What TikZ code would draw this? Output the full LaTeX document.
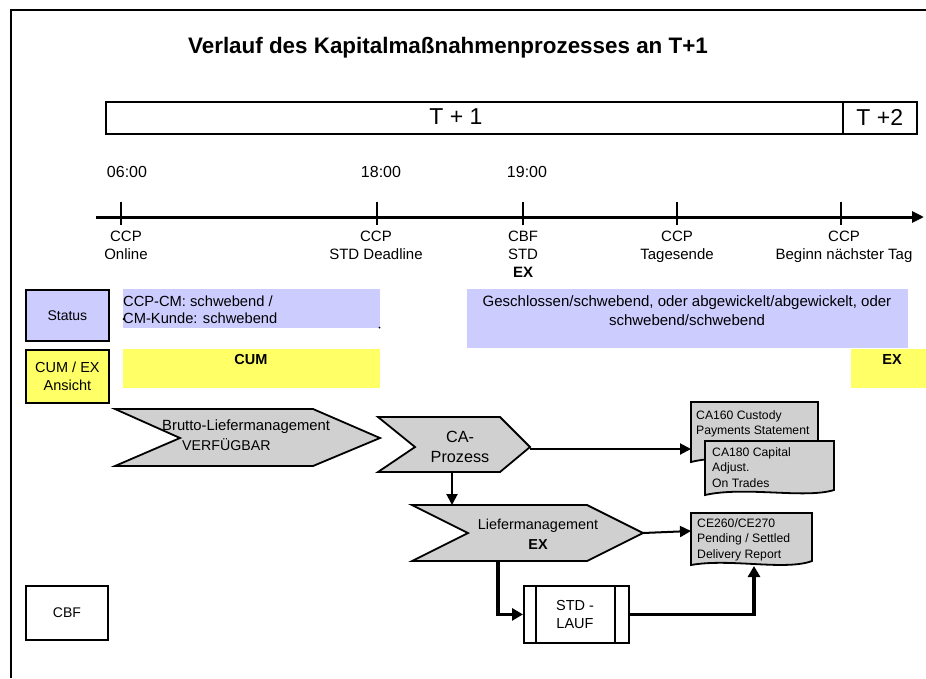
\documentclass[tikz,border=0pt]{standalone}
\usepackage{fontspec}
\setmainfont{Liberation Sans}
\usetikzlibrary{arrows.meta}
\definecolor{lav}{HTML}{CCCCFF}
\definecolor{yel}{HTML}{FFFF66}
\definecolor{chev}{HTML}{D0D0D0}
\newcommand\fsz[2]{\fontsize{#1}{#2}\selectfont}
\begin{document}
\begin{tikzpicture}[x=1pt,y=-1pt,
  txt/.style={inner sep=0pt, font=\fsz{14}{18}},
  lbl/.style={inner sep=0pt, font=\fsz{15}{18}, align=center, anchor=north},
  boxst/.style={draw, line width=1.8pt, inner sep=0pt, anchor=north west},
  bar/.style={inner sep=0pt, anchor=north west},
  chevst/.style={draw, fill=chev, line width=1.8pt, line join=miter},
  docst/.style={draw, fill=chev, line width=1.8pt},
  doctxt/.style={inner sep=0pt, anchor=north west, align=left, font=\fsz{12.2}{15.7}},
  arr/.style={line width=2pt, -{Triangle[length=11pt,width=11pt]}},
  tharr/.style={line width=3.2pt, -{Triangle[length=11pt,width=12pt]}}]
\useasboundingbox (0,0) rectangle (926,678);
\fill[white] (0,0) rectangle (926,678);
% frame
\draw[line width=2.2pt] (11,678) -- (11,10) -- (926,10);
% title
\node[inner sep=0pt, font=\bfseries\fsz{22.4}{25}] (title) at (448,48) {Verlauf des Kapitalmaßnahmenprozesses an T+1};
% day boxes
\node[boxst, line width=1.6pt, minimum width=737pt, minimum height=32pt] (t1) at (105,101) {};
\node[inner sep=0pt, font=\fsz{23}{26}] (t1t) at (456,117) {T + 1};
\node[boxst, line width=1.6pt, minimum width=74pt, minimum height=32pt, font=\fsz{23}{26}] (t2) at (842,101) {T +2};
% times
\node[txt, font=\fsz{16}{18}] (h06) at (127,172) {06:00};
\node[txt, font=\fsz{16}{18}] (h18) at (381,172) {18:00};
\node[txt, font=\fsz{16}{18}] (h19) at (527,172) {19:00};
% timeline
\coordinate (tlS) at (96,217);
\coordinate (tlE) at (924,217);
\draw[line width=3pt, -{Triangle[length=12pt,width=11pt]}] (tlS) -- (tlE);
\foreach \x in {121,377,523,677,841}{\draw[line width=1.6pt] (\x,202) -- (\x,225);}
\node[lbl] (l1) at (126,231) {CCP\\Online};
\node[lbl] (l2) at (376,231) {CCP\\STD Deadline};
\node[lbl] (l3) at (523,231) {CBF\\STD\\\textbf{EX}};
\node[lbl] (l4) at (677,231) {CCP\\Tagesende};
\node[lbl] (l5) at (844,231) {CCP\\Beginn nächster Tag};
% left labels
\node[boxst, fill=lav, minimum width=83pt, minimum height=51pt, font=\fsz{14}{18}] (status) at (25,289) {Status};
\node[boxst, fill=yel, minimum width=83pt, minimum height=53pt, font=\fsz{14.5}{18}, align=center] (cumex) at (25,349) {CUM / EX\\Ansicht};
\node[boxst, minimum width=82pt, minimum height=54pt, font=\fsz{14}{18}] (cbf) at (25,585) {CBF};
% status bars
\node[bar, fill=lav, minimum width=257pt, minimum height=39pt] (st1) at (123,289) {};
\node[txt, anchor=north west, align=left, font=\fsz{14.7}{17}] (st1t) at (123,296) {CCP-CM: schwebend /\\CM-Kunde: schwebend};
\fill (123.5,319) circle (1pt);
\fill (379.5,327.5) circle (1pt);
\node[bar, fill=lav, minimum width=441pt, minimum height=59pt] (st2) at (467,289) {};
\node[txt, anchor=north, align=center, font=\fsz{15}{19}] (st2t) at (687,295) {Geschlossen/schwebend, oder abgewickelt/abgewickelt, oder\\schwebend/schwebend};
% cum/ex bars
\node[bar, fill=yel, minimum width=257pt, minimum height=39pt] (cum) at (123,349) {};
\node[txt, font=\bfseries\fsz{14.5}{18}] (cumt) at (251,360) {CUM};
\node[bar, fill=yel, minimum width=75pt, minimum height=39pt] (ex) at (851,349) {};
\node[txt, font=\bfseries\fsz{14.5}{18}] (ext) at (892,360) {EX};
% chevrons
\draw[chevst] (115,409) -- (313,409) -- (380,438) -- (313,466) -- (115,466) -- (180,438) -- cycle;
\node[txt, anchor=west, font=\fsz{14.8}{18}] (br1) at (162,427) {Brutto-Liefermanagement};
\node[txt, anchor=west, font=\fsz{14.2}{18}] (br2) at (182,445) {VERFÜGBAR};
\draw[chevst] (378,417) -- (500,417) -- (530,447) -- (500,472) -- (378,472) -- (415,447) -- cycle;
\node[txt, align=center, font=\fsz{16.2}{19.5}] (ca) at (460,447) {CA-\\Prozess};
\draw[chevst] (412,505) -- (587,505) -- (643,533) -- (587,561) -- (412,561) -- (468,533) -- cycle;
\node[txt, align=center, font=\fsz{14.4}{20}] (lf) at (538,534) {Liefermanagement\\\textbf{EX}};
\coordinate (caTip) at (530,449);
\coordinate (caBot) at (452,472);
\coordinate (lfTop) at (452,505);
\coordinate (lfTip) at (643,533);
\coordinate (lfBot) at (498,561);
% STD-LAUF
\node[boxst, minimum width=105pt, minimum height=57pt] (std) at (523,585) {};
\draw[line width=1.8pt] (536,585) -- (536,642) (615,585) -- (615,642);
\node[txt, align=center, font=\fsz{14.5}{18}] (stdt) at (575,614) {STD -\\LAUF};
% report documents
\draw[docst] (691,402) -- (818,402) -- (818,458) .. controls (790,468) and (730,452) .. (691,462) -- cycle;
\draw[docst] (705,441) -- (834,441) -- (834,490) .. controls (805,499) and (745,486) .. (705,495) -- cycle;
\draw[docst] (691,513) -- (812,513) -- (812,561) .. controls (785,571) and (730,558) .. (691,565) -- cycle;
\node[doctxt] (r1) at (696,410) {CA160 Custody\\Payments Statement};
\node[doctxt] (r2) at (712,447) {CA180 Capital\\Adjust.\\On Trades};
\node[doctxt] (r3) at (697,518) {CE260/CE270\\Pending / Settled\\Delivery Report};
\coordinate (r1W) at (691,449);
\coordinate (r3W) at (691,531);
\coordinate (r3B) at (754,566);
% connectors
\draw[arr] (caTip) -- (r1W);
\draw[arr] (caBot) -- (lfTop);
\draw[arr] (lfTip) -- (r3W);
\draw[tharr] (lfBot) |- (std.west);
\draw[tharr] (std.east) -| (r3B);
\end{tikzpicture}
\end{document}
